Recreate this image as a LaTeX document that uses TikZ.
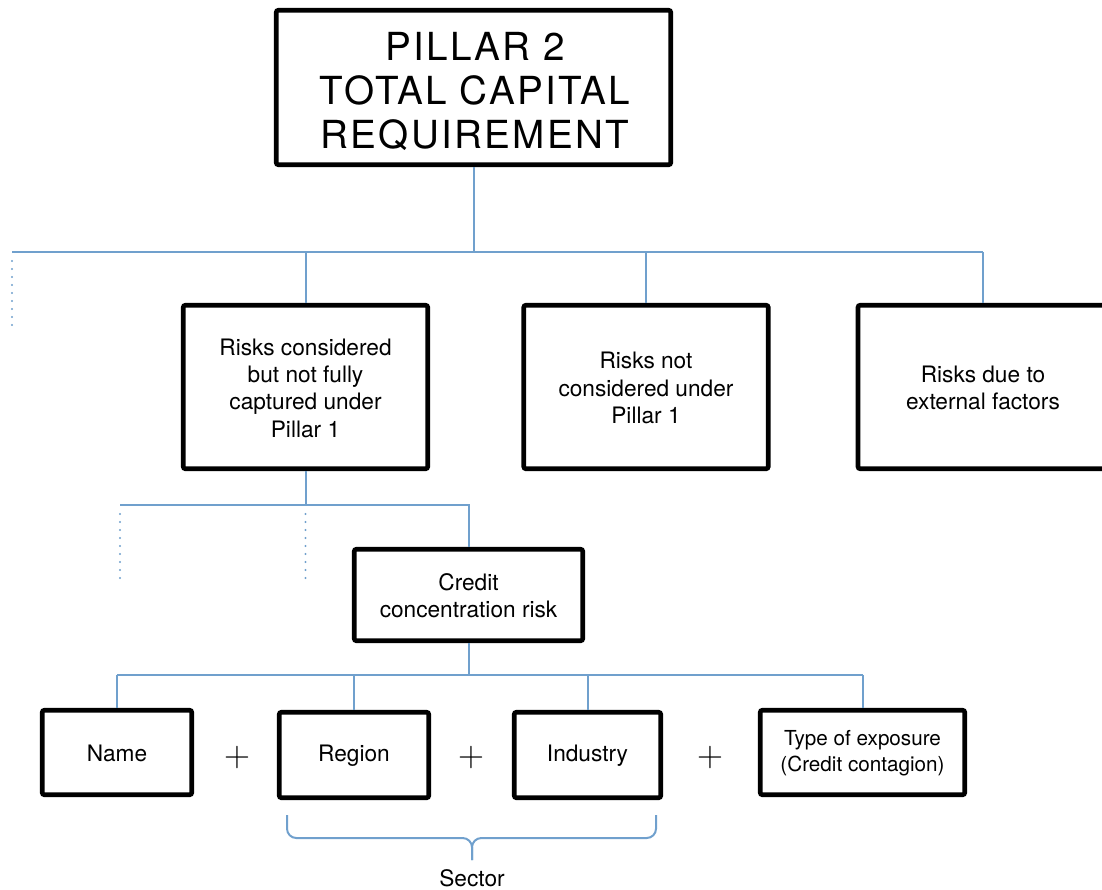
\documentclass[tikz,border=0pt]{standalone}
\usepackage{fontspec}
\setmainfont{TeX Gyre Heros}
\newfontfamily\titlefont[LetterSpace=6]{TeX Gyre Heros}
\newfontfamily\plusfont{Latin Modern Roman}
\definecolor{linkblue}{RGB}{112,160,205}
\begin{document}
\begin{tikzpicture}[x=0.75pt,y=-0.75pt,
  box/.style={draw=black, line width=3.4pt, rounded corners=1.5pt, fill=white,
    align=center, inner sep=0pt, font=\fontsize{17}{20.5}\selectfont},
  sz/.style 2 args={minimum width=#1*0.75pt, minimum height=#2*0.75pt},
  conn/.style={draw=linkblue, line width=1.5pt},
  dots/.style={draw=linkblue, line width=1.6pt, line cap=round, dash pattern=on 0pt off 6pt},
  plus/.style={font=\plusfont\fontsize{27}{27}\selectfont, inner sep=0pt},
  lbl/.style={font=\fontsize{17}{20}\selectfont, inner sep=0pt}]
\useasboundingbox (0,0) rectangle (1102,889);

% nodes
\node[box, sz={394.5}{154.5}] (title) at (473.5,87.5) {};
\node[align=center, inner sep=0pt, font=\titlefont\fontsize{29}{33}\selectfont] (titletext) at (475,91)
  {PILLAR 2\\TOTAL CAPITAL\\REQUIREMENT};
\node[box, sz={244.5}{163.5}] (b1) at (305.5,387)
  {\rule{0pt}{14pt}Risks considered\\but not fully\\captured under\\Pillar 1};
\node[box, sz={244.5}{163.5}] (b2) at (646,387)
  {\rule{0pt}{14pt}Risks not\\considered under\\Pillar 1};
\node[box, sz={250}{163.5}] (b3) at (983,387)
  {\rule{0pt}{14pt}Risks due to\\external factors};
\node[box, sz={228.5}{91.5}] (credit) at (468.5,595)
  {\rule{0pt}{14pt}Credit\\concentration risk};
\node[box, sz={149.5}{84.5}] (name) at (117,752.5) {\rule{0pt}{14pt}Name};
\node[box, sz={149.5}{85.5}] (region) at (354,755) {\rule{0pt}{14pt}Region};
\node[box, sz={146.5}{85.5}] (industry) at (587.5,755) {\rule{0pt}{14pt}Industry};
\node[box, sz={204.5}{84.5}, font=\fontsize{15.5}{19.5}\selectfont] (type) at (862.5,752.5)
  {\rule{0pt}{13pt}Type of exposure\\(Credit contagion)};
\node[plus] (p1) at (237,758) {+};
\node[plus] (p2) at (471,758) {+};
\node[plus] (p3) at (710,758) {+};
\node[lbl] (sector) at (472,878) {Sector};

% level 1 connectors
\coordinate (hL) at (12,252);
\coordinate (dL) at (12,332);
\draw[conn] (title.south) -- (title.south |- hL);
\draw[conn] (hL) -- (b3.north |- hL);
\draw[conn] (b1.north |- hL) -- (b1.north);
\draw[conn] (b2.north |- hL) -- (b2.north);
\draw[conn] (b3.north |- hL) -- (b3.north);
\draw[dots] (12,261) -- (dL);

% level 2 connectors
\coordinate (h2L) at (120,505);
\coordinate (d2a) at (120,585);
\coordinate (d2b) at (305.5,585);
\draw[conn] (b1.south) -- (b1.south |- h2L);
\draw[conn] (h2L) -- (credit.north |- h2L) -- (credit.north);
\draw[dots] (120,514) -- (d2a);
\draw[dots] (305.5,514) -- (d2b);

% level 3 connectors
\coordinate (h3) at (0,675);
\draw[conn] (credit.south) -- (credit.south |- h3);
\draw[conn] (name.north |- h3) -- (type.north |- h3);
\draw[conn] (name.north |- h3) -- (name.north);
\draw[conn] (region.north |- h3) -- (region.north);
\draw[conn] (industry.north |- h3) -- (industry.north);
\draw[conn] (type.north |- h3) -- (type.north);

% brace
\coordinate (brL) at (287,815);
\coordinate (brR) at (656,815);
\coordinate (brT) at (472,860);
\draw[conn, rounded corners=7pt] (brL) -- (287,838) -- (472,838) -- (brT);
\draw[conn, rounded corners=7pt] (brR) -- (656,838) -- (472,838) -- (brT);
\end{tikzpicture}
\end{document}
